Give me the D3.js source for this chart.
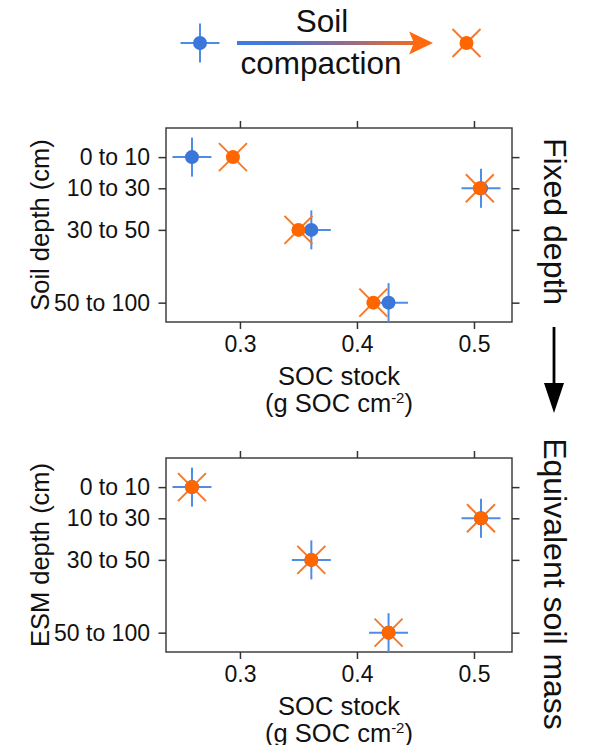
<!DOCTYPE html>
<html>
<head>
<meta charset="utf-8">
<script src="https://cdn.jsdelivr.net/npm/d3@7"></script>
<style>
  html, body { margin: 0; padding: 0; background: #fff; }
  svg { display: block; font-family: "Liberation Sans", Arial, Helvetica, sans-serif; }
</style>
</head>
<body>
<svg id="chart" width="590" height="745"></svg>
<script>
// ---- data ----
const depthLabels = ["0 to 10", "10 to 30", "30 to 50", "50 to 100"];
const depthMid = [5, 20, 40, 75];
const xTicks = [0.3, 0.4, 0.5];
const fixedBefore = [0.259, 0.506, 0.361, 0.427];
const fixedAfter  = [0.294, 0.505, 0.350, 0.414];
const esmBefore   = [0.259, 0.506, 0.361, 0.427];
const esmAfter    = [0.259, 0.506, 0.361, 0.427];
const panelTitles = ["Fixed depth", "Equivalent soil mass"];
const yTitles = ["Soil depth (cm)", "ESM depth (cm)"];

// ---- style ----
const blueDot = "#3a77d9", blueLine = "#4f8ce6";
const orangeDot = "#ff6600", orangeLine = "#f5792b";
const frameCol = "#333333";

const svg = d3.select("#chart");

const x = d3.scaleLinear().domain([0.2368, 0.5325]).range([166, 512]);

function drawBlue(g, cx, cy) {
  g.append("line").attr("x1", cx - 19.5).attr("x2", cx + 19.5).attr("y1", cy).attr("y2", cy)
    .attr("stroke", blueLine).attr("stroke-width", 2);
  g.append("line").attr("x1", cx).attr("x2", cx).attr("y1", cy - 19.5).attr("y2", cy + 19.5)
    .attr("stroke", blueLine).attr("stroke-width", 2);
  g.append("circle").attr("cx", cx).attr("cy", cy).attr("r", 7).attr("fill", blueDot);
}
function drawOrange(g, cx, cy) {
  const a = 14;
  g.append("line").attr("x1", cx - a).attr("x2", cx + a).attr("y1", cy - a).attr("y2", cy + a)
    .attr("stroke", orangeLine).attr("stroke-width", 2);
  g.append("line").attr("x1", cx - a).attr("x2", cx + a).attr("y1", cy + a).attr("y2", cy - a)
    .attr("stroke", orangeLine).attr("stroke-width", 2);
  g.append("circle").attr("cx", cx).attr("cy", cy).attr("r", 7).attr("fill", orangeDot);
}

function panel(offset, before, after, yTitle) {
  const top = 128 + offset, bottom = 322 + offset;
  const y = d3.scaleLinear().domain([-9, 84.3]).range([top, bottom]);
  const g = svg.append("g");

  const styleAxis = sel => {
    sel.select(".domain").remove();
    sel.selectAll(".tick line").attr("stroke", frameCol).attr("stroke-width", 1.5);
    sel.selectAll(".tick text").attr("fill", "#111").style("font-size", "23px")
      .style("font-family", "'Liberation Sans', Arial, sans-serif");
  };

  g.append("g").attr("transform", `translate(0,${bottom})`)
    .call(d3.axisBottom(x).tickValues(xTicks).tickFormat(d3.format(".1f")).tickSize(7).tickPadding(6.5).tickSizeOuter(0))
    .call(styleAxis);
  g.append("g").attr("transform", `translate(0,${top})`)
    .call(d3.axisTop(x).tickValues(xTicks).tickFormat("").tickSize(7).tickSizeOuter(0))
    .call(styleAxis);
  g.append("g").attr("transform", `translate(166,0)`)
    .call(d3.axisLeft(y).tickValues(depthMid).tickFormat((d, i) => depthLabels[i]).tickSize(7.5).tickPadding(8.5).tickSizeOuter(0))
    .call(styleAxis);
  g.append("g").attr("transform", `translate(512,0)`)
    .call(d3.axisRight(y).tickValues(depthMid).tickFormat("").tickSize(7.5).tickSizeOuter(0))
    .call(styleAxis);

  g.append("rect").attr("x", 166).attr("y", top).attr("width", 512 - 166).attr("height", bottom - top)
    .attr("fill", "none").attr("stroke", frameCol).attr("stroke-width", 1.4);

  const pts = g.append("g");
  before.forEach((v, i) => drawBlue(pts, x(v), y(depthMid[i])));
  after.forEach((v, i) => drawOrange(pts, x(v), y(depthMid[i])));

  // y title
  g.append("text").attr("transform", `translate(49,${(top + bottom) / 2}) rotate(-90)`)
    .attr("text-anchor", "middle").style("font-size", "25.5px").attr("fill", "#111").text(yTitle);
  // x title
  g.append("text").attr("x", 339).attr("y", 385 + offset).attr("text-anchor", "middle")
    .style("font-size", "25.5px").attr("fill", "#111").text("SOC stock");
  const l2 = g.append("text").attr("x", 339).attr("y", 411.5 + offset).attr("text-anchor", "middle")
    .style("font-size", "25.5px").attr("fill", "#111");
  l2.append("tspan").text("(g SOC cm");
  l2.append("tspan").attr("dy", -9).style("font-size", "15px").text("-2");
  l2.append("tspan").attr("dy", 9).text(")");
  return g;
}

panel(0, fixedBefore, fixedAfter, yTitles[0]);
panel(330, esmBefore, esmAfter, yTitles[1]);

// side titles
svg.append("text").attr("transform", `translate(544,221.5) rotate(90)`)
  .attr("text-anchor", "middle").style("font-size", "32px").attr("fill", "#111").text(panelTitles[0]);
svg.append("text").attr("transform", `translate(543.5,584) rotate(90)`)
  .attr("text-anchor", "middle").style("font-size", "32px").attr("fill", "#111").text(panelTitles[1]);

// down arrow
svg.append("line").attr("x1", 554).attr("x2", 554).attr("y1", 327).attr("y2", 390)
  .attr("stroke", "#000").attr("stroke-width", 2.8);
svg.append("path").attr("d", "M544,383 L564,383 L554,413 Z").attr("fill", "#000");

// legend
const defs = svg.append("defs");
const grad = defs.append("linearGradient").attr("id", "cgrad")
  .attr("gradientUnits", "userSpaceOnUse").attr("x1", 237).attr("x2", 425).attr("y1", 0).attr("y2", 0);
grad.append("stop").attr("offset", "0%").attr("stop-color", "#3b7ddf");
grad.append("stop").attr("offset", "25%").attr("stop-color", "#4678d6");
grad.append("stop").attr("offset", "60%").attr("stop-color", "#9a6a85");
grad.append("stop").attr("offset", "100%").attr("stop-color", "#ff6a10");
svg.append("line").attr("x1", 237).attr("x2", 414).attr("y1", 43).attr("y2", 43)
  .attr("stroke", "url(#cgrad)").attr("stroke-width", 3.8);
svg.append("path").attr("d", "M409,31.5 L433,43 L409,54.5 L414,43 Z").attr("fill", "#ff6a10");

const leg = svg.append("g");
drawBlue(leg, 200, 43);
drawOrange(leg, 466.5, 43);

svg.append("text").attr("x", 322).attr("y", 32).attr("text-anchor", "middle")
  .style("font-size", "31.5px").attr("fill", "#111").text("Soil");
svg.append("text").attr("x", 321).attr("y", 74).attr("text-anchor", "middle")
  .style("font-size", "31.5px").attr("fill", "#111").text("compaction");
</script>
</body>
</html>
